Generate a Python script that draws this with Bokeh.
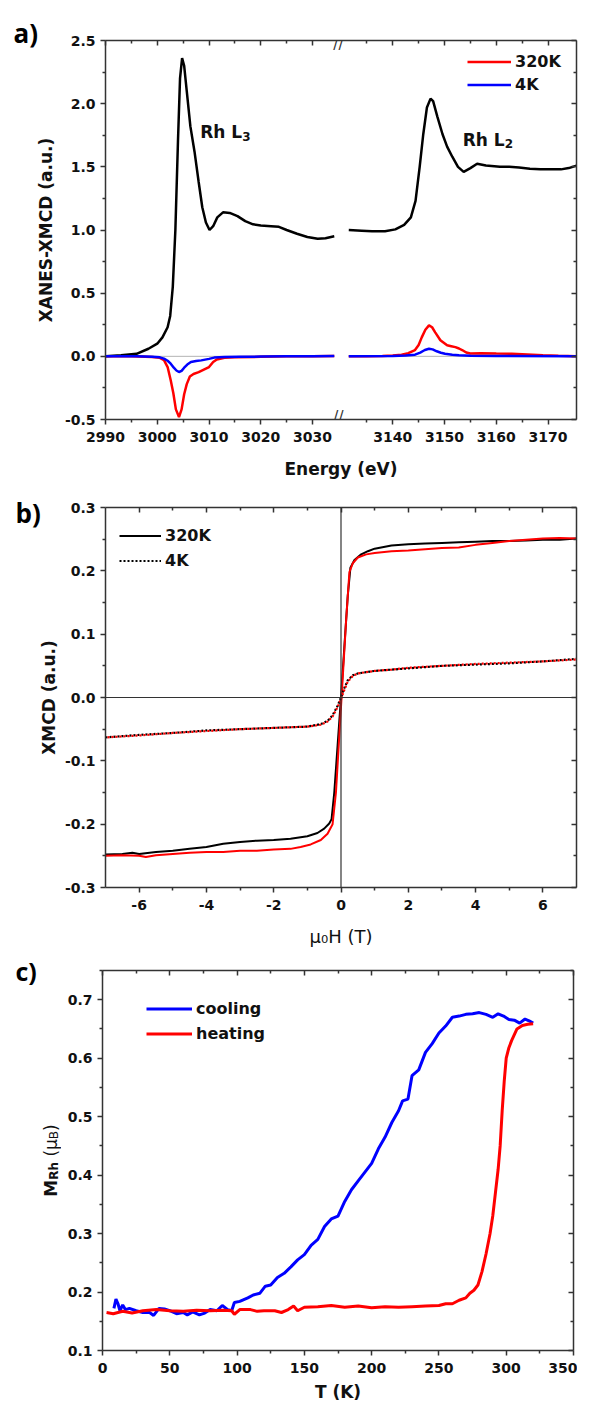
import math
from bokeh.plotting import figure
from bokeh.models import (Range1d, FixedTicker, LinearAxis, Span, Label, Legend,
                          LegendItem, PrintfTickFormatter, CustomJSTickFormatter)
from bokeh.layouts import column, row
from bokeh.embed import file_html
from bokeh.resources import INLINE

# ======================= DATA =======================
# (a) XANES and XMCD at the Rh L3 and L2 edges (energy in eV)
BREAK_SHIFT = 94.5          # eV cut out of the axis between the two edges
e_xanes_l3 = [2990, 2993, 2996, 2998.3, 3000, 3001, 3002, 3002.5, 3003, 3003.5, 3004, 3004.4,
              3004.8, 3005.2, 3005.7, 3006.4, 3007.2, 3008, 3008.7, 3009.4, 3010.1, 3010.8,
              3011.6, 3012.7, 3014, 3015.5, 3017, 3018.5, 3020, 3022, 3023.5, 3025, 3027,
              3029, 3031, 3032.5, 3034.2]
xanes_l3 = [0.0, 0.008, 0.02, 0.06, 0.10, 0.15, 0.23, 0.32, 0.55, 1.0, 1.7, 2.2,
            2.36, 2.3, 2.1, 1.82, 1.62, 1.38, 1.18, 1.06, 1.0, 1.03,
            1.1, 1.14, 1.135, 1.11, 1.07, 1.045, 1.035, 1.03, 1.025, 1.0, 0.97,
            0.945, 0.93, 0.935, 0.95]
e_xanes_l2 = [3131.5, 3134, 3136, 3138.5, 3140.5, 3142.2, 3143.5, 3144.4, 3145.2, 3145.9,
              3146.6, 3147.3, 3147.8, 3148.6, 3149.6, 3150.5, 3151.5, 3152.6, 3153.7, 3155,
              3156.3, 3158, 3160.7, 3162.5, 3164.4, 3166.5, 3168.5, 3170.4, 3172.5, 3174,
              3175.5]
xanes_l2 = [1.0, 0.995, 0.99, 0.99, 1.005, 1.04, 1.1, 1.23, 1.5, 1.76,
            1.97, 2.04, 2.02, 1.9, 1.76, 1.66, 1.58, 1.5, 1.46, 1.49,
            1.525, 1.51, 1.50, 1.5, 1.495, 1.485, 1.48, 1.48, 1.48, 1.49,
            1.51]
e_320_l3 = [2990, 2995, 2999, 3000.5, 3001.3, 3002, 3002.6, 3003.1, 3003.6, 3004.2, 3004.7,
            3005.2, 3005.7, 3006.3, 3007, 3008, 3009, 3010, 3010.8, 3011.5, 3013, 3015,
            3020, 3025, 3030, 3034.2]
xmcd_320_l3 = [0.0, 0.0, -0.005, -0.012, -0.03, -0.085, -0.19, -0.29, -0.42, -0.48, -0.42,
               -0.3, -0.22, -0.16, -0.14, -0.125, -0.105, -0.085, -0.045, -0.025, -0.012, -0.008,
               -0.004, 0.0, 0.0, 0.003]
e_4_l3 = [2990, 2996, 2999, 3000.5, 3001.3, 3002, 3002.6, 3003.2, 3003.7, 3004.2, 3004.7,
          3005.2, 3005.8, 3006.5, 3007.5, 3008.5, 3010, 3011, 3013, 3016, 3020, 3025, 3030,
          3034.2]
xmcd_4_l3 = [0.0, 0.0, -0.003, -0.008, -0.018, -0.035, -0.058, -0.09, -0.112, -0.124, -0.115,
             -0.09, -0.065, -0.045, -0.037, -0.032, -0.02, -0.01, -0.006, -0.004, -0.002, 0.0, 0.0,
             0.002]
e_320_l2 = [3131.5, 3135, 3138, 3140, 3141.7, 3143, 3144.3, 3145, 3145.6, 3146.3, 3147,
            3147.6, 3148.2, 3149.2, 3150.5, 3151.3, 3152.1, 3152.8, 3153.4, 3154.2, 3155,
            3157, 3160, 3163, 3166, 3169, 3172, 3175.5]
xmcd_320_l2 = [0.0, 0.0, 0.003, 0.007, 0.013, 0.025, 0.05, 0.09, 0.15, 0.21, 0.245,
               0.23, 0.19, 0.127, 0.087, 0.08, 0.073, 0.062, 0.05, 0.03, 0.022,
               0.025, 0.022, 0.02, 0.015, 0.008, 0.004, 0.0]
e_4_l2 = [3131.5, 3140, 3142.5, 3144.3, 3145.3, 3146.2, 3147, 3147.7, 3148.5, 3149.3, 3150.1,
          3151.5, 3152.8, 3155, 3160, 3175.5]
xmcd_4_l2 = [0.0, 0.002, 0.006, 0.013, 0.03, 0.05, 0.06, 0.055, 0.04, 0.028, 0.02,
             0.012, 0.008, 0.004, 0.002, 0.0]
xa_major = [2990, 3000, 3010, 3020, 3030, 3140, 3150, 3160, 3170]
xa_minor = [2995, 3005, 3015, 3025, 3135, 3145, 3155, 3165]
ya_major = [-0.5, 0.0, 0.5, 1.0, 1.5, 2.0, 2.5]
ya_minor = [-0.25, 0.25, 0.75, 1.25, 1.75, 2.25]

# (b) XMCD hysteresis loops vs field (T)
h_320_black = [-7, -6.5, -6.2, -6, -5.5, -5, -4.5, -4, -3.5, -3, -2.5, -2, -1.5, -1, -0.7, -0.5,
               -0.35, -0.28, -0.2, -0.1, 0, 0.1, 0.2, 0.28, 0.4, 0.6, 0.8, 1, 1.5, 2, 2.5, 3,
               3.5, 4, 4.5, 5, 5.5, 6, 6.5, 7]
m_320_black = [-0.248, -0.247, -0.245, -0.247, -0.244, -0.242, -0.239, -0.236, -0.231, -0.228,
               -0.226, -0.225, -0.223, -0.219, -0.214, -0.207, -0.199, -0.192, -0.15, -0.075,
               0.0, 0.08, 0.16, 0.205, 0.217, 0.226, 0.231, 0.235, 0.240, 0.242, 0.243, 0.244,
               0.245, 0.246, 0.247, 0.247, 0.248, 0.249, 0.249, 0.251]
h_320_red = [-7, -6.5, -6, -5.8, -5.5, -5, -4.5, -4, -3.5, -3, -2.5, -2, -1.5, -1.2, -0.9, -0.6,
             -0.4, -0.25, -0.15, -0.05, 0.05, 0.15, 0.25, 0.35, 0.5, 0.75, 1, 1.5, 2, 2.5, 3,
             3.5, 4, 4.5, 5, 5.5, 6, 6.5, 7]
m_320_red = [-0.250, -0.249, -0.250, -0.252, -0.249, -0.247, -0.245, -0.244, -0.244, -0.242,
             -0.242, -0.240, -0.239, -0.236, -0.232, -0.225, -0.215, -0.200, -0.150, -0.060,
             0.030, 0.120, 0.198, 0.212, 0.221, 0.226, 0.228, 0.231, 0.232, 0.234, 0.236,
             0.237, 0.241, 0.244, 0.247, 0.249, 0.251, 0.252, 0.251]
h_4 = [-7, -6, -5, -4, -3, -2, -1, -0.6, -0.4, -0.25, -0.1, 0, 0.1, 0.2, 0.35, 0.5, 1, 1.5,
       2, 3, 4, 5, 6, 7]
m_4_black = [-0.063, -0.059, -0.056, -0.052, -0.050, -0.048, -0.046, -0.042, -0.037, -0.028,
             -0.013, 0.0, 0.015, 0.027, 0.035, 0.038, 0.042, 0.044, 0.046, 0.050, 0.052, 0.054,
             0.057, 0.061]
m_4_red = [-0.063, -0.060, -0.056, -0.053, -0.050, -0.048, -0.046, -0.043, -0.038, -0.030,
           -0.015, -0.002, 0.012, 0.025, 0.034, 0.038, 0.042, 0.044, 0.047, 0.050, 0.053,
           0.055, 0.057, 0.060]
xb_major = [-6, -4, -2, 0, 2, 4, 6]
xb_minor = [-5, -3, -1, 1, 3, 5]
yb_major = [-0.3, -0.2, -0.1, 0.0, 0.1, 0.2, 0.3]
yb_minor = [-0.25, -0.15, -0.05, 0.05, 0.15, 0.25]

# (c) Rh moment vs temperature (K)
t_cool = [8.5, 10, 11.5, 13, 15, 17, 20, 25, 30, 35, 38, 42, 46, 50, 55, 60, 63, 67, 72, 76,
          80, 85, 89, 93, 96, 98, 102, 108, 112, 117, 121, 125, 130, 135, 140, 145, 150, 155,
          160, 165, 170, 175, 180, 185, 190, 195, 200, 205, 210, 215, 220, 223, 227, 230, 235,
          240, 245, 250, 255, 260, 265, 270, 275, 280, 285, 290, 294, 298, 302, 306, 310, 314,
          317, 320]
m_cool = [0.172, 0.188, 0.18, 0.168, 0.178, 0.17, 0.172, 0.168, 0.165, 0.165, 0.16, 0.172, 0.171,
          0.168, 0.163, 0.165, 0.161, 0.166, 0.161, 0.164, 0.17, 0.168, 0.177, 0.17, 0.168, 0.182,
          0.184, 0.19, 0.195, 0.198, 0.21, 0.212, 0.225, 0.232, 0.243, 0.255, 0.264, 0.28, 0.29,
          0.312, 0.325, 0.33, 0.355, 0.375, 0.39, 0.405, 0.42, 0.445, 0.465, 0.49, 0.51, 0.527,
          0.53, 0.57, 0.58, 0.61, 0.625, 0.643, 0.655, 0.67, 0.672, 0.675, 0.676, 0.678, 0.675,
          0.67, 0.676, 0.672, 0.666, 0.665, 0.66, 0.667, 0.664, 0.66]
t_heat = [3, 8, 15, 22, 30, 40, 50, 60, 70, 80, 90, 96, 98, 102, 110, 115, 120, 128, 133, 138,
          142, 145, 150, 160, 170, 180, 190, 200, 210, 220, 230, 240, 250, 255, 260, 265, 270,
          273, 276, 279, 282, 285, 288, 290, 292, 294, 295.5, 297, 298.5, 300, 302, 304, 308,
          312, 316, 320]
m_heat = [0.165, 0.163, 0.167, 0.164, 0.168, 0.17, 0.168, 0.167, 0.169, 0.168, 0.169, 0.168,
          0.162, 0.17, 0.17, 0.167, 0.168, 0.168, 0.165, 0.17, 0.176, 0.168, 0.174, 0.175, 0.177,
          0.174, 0.176, 0.173, 0.175, 0.174, 0.175, 0.176, 0.177, 0.18, 0.18, 0.186, 0.19, 0.198,
          0.203, 0.212, 0.235, 0.265, 0.3, 0.33, 0.37, 0.41, 0.45, 0.51, 0.56, 0.6, 0.618, 0.63,
          0.65, 0.656, 0.658, 0.659]
xc_major = [0, 50, 100, 150, 200, 250, 300, 350]
xc_minor = [25, 75, 125, 175, 225, 275, 325]
yc_major = [0.1, 0.2, 0.3, 0.4, 0.5, 0.6, 0.7]
yc_minor = [0.15, 0.25, 0.35, 0.45, 0.55, 0.65, 0.75]

# ======================= STYLE HELPERS =======================
AX = "#333333"
TXT = "#111111"
TF = "DejaVu Sans"
RED = "#ff0000"
BLUE = "#0000ff"
STRIP_W = 61          # left strip holding panel tags and y titles
FRAME_W = 471


def make_fig(xr, yr, fh, top, bottom):
    p = figure(frame_width=FRAME_W, frame_height=fh, x_range=Range1d(*xr),
               y_range=Range1d(*yr), output_backend="svg", toolbar_location=None,
               min_border_left=41, min_border_right=4, min_border_top=top,
               min_border_bottom=bottom, frame_align=False)
    p.grid.visible = False
    p.outline_line_color = None
    return p


def make_strip(h):
    s = figure(width=STRIP_W, height=h, x_range=Range1d(0, STRIP_W), y_range=Range1d(h, 0),
               x_axis_type=None, y_axis_type=None, output_backend="svg",
               toolbar_location=None, min_border=0, frame_align=False)
    s.grid.visible = False
    s.outline_line_color = None
    return s


def style_axis(ax, ticker, fmt, mirror, standoff=7):
    ax.ticker = ticker
    ax.formatter = fmt
    ax.axis_line_color = AX
    ax.axis_line_width = 1.5
    ax.major_tick_line_color = AX
    ax.major_tick_line_width = 1.5
    ax.minor_tick_line_color = AX
    ax.minor_tick_line_width = 1.5
    if mirror:
        ax.major_tick_in, ax.major_tick_out = 5, 0
        ax.minor_tick_in, ax.minor_tick_out = 3, 0
        ax.major_label_text_color = None
        ax.major_label_text_font_size = "1px"
        ax.major_label_standoff = 0
    else:
        ax.major_tick_in, ax.major_tick_out = 0, 5
        ax.minor_tick_in, ax.minor_tick_out = 0, 3
        ax.major_label_text_font = TF
        ax.major_label_text_font_style = "bold"
        ax.major_label_text_font_size = "14px"
        ax.major_label_text_color = TXT
        ax.major_label_standoff = standoff
        ax.axis_label_text_font = TF
        ax.axis_label_text_font_style = "bold"
        ax.axis_label_text_font_size = "17px"
        ax.axis_label_text_color = TXT


def frame_axes(p, xt, xf, yt, yf):
    bottom, left = p.xaxis[0], p.yaxis[0]
    style_axis(bottom, xt, xf, False, 7)
    style_axis(left, yt, yf, False, 5)
    top = LinearAxis()
    style_axis(top, xt, xf, True)
    p.add_layout(top, "above")
    right = LinearAxis()
    style_axis(right, yt, yf, True)
    p.add_layout(right, "right")
    return bottom, left


def add_legend(p, items, loc, glyph_w, h):
    lg = Legend(items=items, location=loc, orientation="vertical", border_line_color=None,
                background_fill_alpha=0, padding=0, margin=0, spacing=0,
                glyph_width=glyph_w, glyph_height=h, label_height=h, label_standoff=4,
                label_text_font=TF, label_text_font_style="bold",
                label_text_font_size="16px", label_text_color=TXT)
    p.add_layout(lg)


def txt(p, text, x, y, xo=0, yo=0, size="17px", style="bold", font=TF, align="left",
        baseline="alphabetic", angle=0.0, color=TXT):
    p.add_layout(Label(x=x, y=y, x_offset=xo, y_offset=yo, text=text, text_font=font,
                       text_font_size=size, text_font_style=style, text_align=align,
                       text_baseline=baseline, angle=angle, text_color=color))


V = math.pi / 2

# ======================= PANEL (a) =======================
pa = make_fig((2990, 3081), (-0.5, 2.5), 379, 40, 63)
shift = lambda arr: [e - BREAK_SHIFT for e in arr]
xa_ticks = [e if e < 3100 else e - BREAK_SHIFT for e in xa_major]
xa_mticks = [e if e < 3100 else e - BREAK_SHIFT for e in xa_minor]
fmt_a = CustomJSTickFormatter(args=dict(sh=BREAK_SHIFT),
                              code="return (tick > 3035 ? tick + sh : tick).toFixed(0);")
ax_ab, ax_al = frame_axes(pa, FixedTicker(ticks=xa_ticks, minor_ticks=xa_mticks), fmt_a,
                          FixedTicker(ticks=ya_major, minor_ticks=ya_minor),
                          PrintfTickFormatter(format="%.1f"))
ax_ab.axis_label = "Energy (eV)"
ax_ab.axis_label_standoff = 14

pa.line([e_320_l3[0], e_320_l3[-1]], [0, 0], line_color="#b4b4b4", line_width=1)
pa.line(shift([e_320_l2[0], e_320_l2[-1]]), [0, 0], line_color="#b4b4b4", line_width=1)
pa.line(e_xanes_l3, xanes_l3, line_color="black", line_width=2.5)
pa.line(shift(e_xanes_l2), xanes_l2, line_color="black", line_width=2.5)
r320 = pa.line(e_320_l3, xmcd_320_l3, line_color=RED, line_width=2.5)
pa.line(shift(e_320_l2), xmcd_320_l2, line_color=RED, line_width=2.5)
r4 = pa.line(e_4_l3, xmcd_4_l3, line_color=BLUE, line_width=2.5)
pa.line(shift(e_4_l2), xmcd_4_l2, line_color=BLUE, line_width=2.5)

txt(pa, "//", 3035, -0.5, yo=3, size="15px", style="normal", align="center",
    baseline="middle", color=AX)
txt(pa, "//", 3035, 2.5, yo=-3, size="15px", style="normal", align="center",
    baseline="middle", color=AX)
txt(pa, "Rh L", 3008.3, 1.774)
txt(pa, "3", 3008.3, 1.774, xo=42, yo=-4, size="12px")
txt(pa, "Rh L", 3059, 1.714)
txt(pa, "2", 3059, 1.714, xo=42, yo=-4, size="12px")
add_legend(pa, [LegendItem(label="320K", renderers=[r320]),
                LegendItem(label="4K", renderers=[r4])], (362, 323.5), 44, 23)

sa = make_strip(482)
txt(sa, "a)", 13, 32, size="26px", font="Open Sans", color="#000000")
txt(sa, "XANES-XMCD (a.u.)", 45.6, 229.5, align="center", baseline="middle", angle=V)

# ======================= PANEL (b) =======================
pb = make_fig((-7, 7), (-0.3, 0.3), 380, 25, 63)
ax_bb, ax_bl = frame_axes(pb, FixedTicker(ticks=xb_major, minor_ticks=xb_minor),
                          PrintfTickFormatter(format="%d"),
                          FixedTicker(ticks=yb_major, minor_ticks=yb_minor),
                          PrintfTickFormatter(format="%.1f"))
ax_bb.axis_label = "\u03bc\u2080H (T)"
ax_bb.axis_label_text_font_style = "normal"
ax_bb.axis_label_text_font_size = "18px"
ax_bb.axis_label_standoff = 13
pb.add_layout(Span(location=0, dimension="width", line_color=AX, line_width=1.2))
pb.add_layout(Span(location=0, dimension="height", line_color=AX, line_width=1.2))
rb1 = pb.line(h_320_black, m_320_black, line_color="black", line_width=2)
pb.line(h_320_red, m_320_red, line_color=RED, line_width=2)
rb2 = pb.line(h_4, m_4_black, line_color="black", line_width=2.2, line_dash="2 2")
pb.line(h_4, m_4_red, line_color=RED, line_width=2.2, line_dash="2 2", line_dash_offset=2)
add_legend(pb, [LegendItem(label="320K", renderers=[rb1]),
                LegendItem(label="4K", renderers=[rb2])], (14, 314.5), 42, 25)

sb = make_strip(468)
txt(sb, "b)", 15, 30, size="26px", font="Open Sans", color="#000000")
txt(sb, "XMCD (a.u.)", 48, 215, align="center", baseline="middle", angle=V)

# ======================= PANEL (c) =======================
pc = make_fig((0, 350), (0.1, 0.75), 380, 20, 54)
ax_cb, ax_cl = frame_axes(pc, FixedTicker(ticks=xc_major, minor_ticks=xc_minor),
                          PrintfTickFormatter(format="%d"),
                          FixedTicker(ticks=yc_major, minor_ticks=yc_minor),
                          PrintfTickFormatter(format="%.1f"))
ax_cb.axis_label = "T (K)"
ax_cb.axis_label_standoff = 6
rc1 = pc.line(t_cool, m_cool, line_color=BLUE, line_width=3)
rc2 = pc.line(t_heat, m_heat, line_color=RED, line_width=3)
add_legend(pc, [LegendItem(label="cooling", renderers=[rc1]),
                LegendItem(label="heating", renderers=[rc2])], (44, 304.5), 46, 25)

sc = make_strip(454)
txt(sc, "c)", 15, 20, size="25px", font="Open Sans", color="#000000")
# y title  M_Rh (mu_B), rotated, built from pieces
BX, BXS = 50.0, 53.5
txt(sc, "M", BX, 246.2, angle=V)
txt(sc, "Rh", BXS, 229.3, size="12px", angle=V)
txt(sc, "(", BX, 206.1, style="normal", angle=V)
txt(sc, "\u03bc", BX, 199.5, style="normal", angle=V)
txt(sc, "B", BXS, 188.7, size="12px", style="normal", angle=V)
txt(sc, ")", BX, 180.5, style="normal", angle=V)

layout = column(row(sa, pa), row(sb, pb), row(sc, pc))
open("out.html", "w").write(file_html(layout, INLINE))
